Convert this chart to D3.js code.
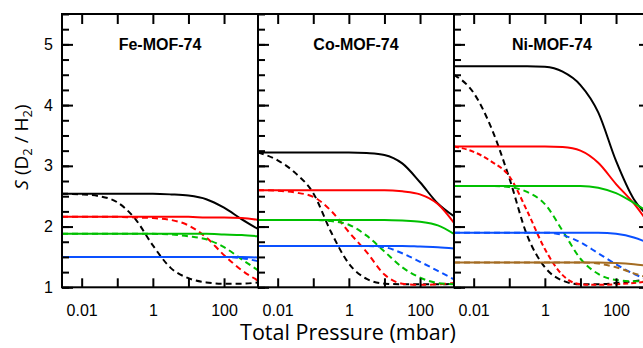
<!DOCTYPE html>
<html>
<head>
<meta charset="utf-8">
<script src="https://cdnjs.cloudflare.com/ajax/libs/d3/7.8.5/d3.min.js"></script>
<style>
    html, body { margin: 0; padding: 0; background: #fff; }
    .chart-sel__frame { fill: none; stroke: #000; stroke-width: 2; }
    .chart-sel__axis path.domain { display: none; }
    .chart-sel__axis line { stroke: #000; stroke-width: 2; }
    .chart-sel__axis text { font-family: "Liberation Sans", Arial, sans-serif; font-size: 16px; fill: #000; }
    .chart-sel__title { font-family: "Liberation Sans", Arial, sans-serif; font-weight: bold; font-size: 16px; }
    .chart-sel__label { font-family: "Open Sans", sans-serif; fill: #000; }
    .chart-sel__curve { fill: none; stroke-width: 2; }
</style>
</head>
<body>
<div id="chart"></div>
<script>
const pressures = [0.0028, 0.01, 0.0316, 0.1, 0.316, 1, 3.16, 10, 31.6, 100, 316, 900];

const panelNames = ['Fe-MOF-74', 'Co-MOF-74', 'Ni-MOF-74'];

const xTickValues = [0.01, 0.1, 1, 10, 100];
const xTickLabels = [0.01, 1, 100];
const yMajorTicks = [1, 2, 3, 4, 5];
const yMinorTicks = [1, 1.25, 1.5, 1.75, 2, 2.25, 2.5, 2.75, 3, 3.25, 3.5, 3.75, 4, 4.25, 4.5, 4.75, 5, 5.25, 5.5];

// series order: black, red, green, blue, brown
const feSolid = [
    [2.54, 2.54, 2.54, 2.54, 2.54, 2.54, 2.53, 2.51, 2.45, 2.31, 2.12, 1.96],
    [2.16, 2.16, 2.16, 2.16, 2.16, 2.16, 2.16, 2.16, 2.15, 2.15, 2.14, 2.11],
    [1.88, 1.88, 1.88, 1.88, 1.88, 1.88, 1.88, 1.88, 1.88, 1.87, 1.86, 1.84],
    [1.50, 1.50, 1.50, 1.50, 1.50, 1.50, 1.50, 1.50, 1.50, 1.50, 1.50, 1.49],
];
const feDashed = [
    [2.54, 2.53, 2.50, 2.40, 2.13, 1.69, 1.32, 1.15, 1.08, 1.06, 1.06, 1.08],
    [2.16, 2.16, 2.16, 2.16, 2.15, 2.14, 2.11, 2.02, 1.82, 1.53, 1.28, 1.11],
    [1.88, 1.88, 1.88, 1.88, 1.88, 1.88, 1.87, 1.84, 1.79, 1.66, 1.46, 1.28],
    [1.50, 1.50, 1.50, 1.50, 1.50, 1.50, 1.50, 1.50, 1.50, 1.50, 1.48, 1.43],
];
const coSolid = [
    [3.22, 3.22, 3.22, 3.22, 3.22, 3.22, 3.21, 3.18, 3.04, 2.73, 2.38, 2.17],
    [2.60, 2.60, 2.60, 2.60, 2.60, 2.60, 2.60, 2.60, 2.58, 2.53, 2.37, 2.06],
    [2.11, 2.11, 2.11, 2.11, 2.11, 2.11, 2.11, 2.11, 2.10, 2.08, 2.02, 1.88],
    [1.68, 1.68, 1.68, 1.68, 1.68, 1.68, 1.68, 1.68, 1.68, 1.67, 1.66, 1.64],
];
const coDashed = [
    [3.22, 3.09, 2.88, 2.55, 1.91, 1.39, 1.14, 1.06, 1.05, 1.05, 1.05, 1.06],
    [2.60, 2.59, 2.56, 2.49, 2.26, 1.91, 1.58, 1.21, 1.06, 1.04, 1.05, 1.07],
    [2.11, 2.11, 2.11, 2.11, 2.09, 2.03, 1.85, 1.59, 1.33, 1.16, 1.07, 1.05],
    [1.68, 1.68, 1.68, 1.68, 1.68, 1.68, 1.68, 1.66, 1.56, 1.42, 1.27, 1.13],
];
const niSolid = [
    [4.64, 4.64, 4.64, 4.64, 4.64, 4.63, 4.55, 4.33, 3.88, 3.08, 2.45, 2.15],
    [3.32, 3.32, 3.32, 3.32, 3.32, 3.32, 3.31, 3.25, 3.05, 2.70, 2.38, 2.02],
    [2.67, 2.67, 2.67, 2.67, 2.67, 2.67, 2.67, 2.67, 2.64, 2.55, 2.39, 2.22],
    [1.90, 1.90, 1.90, 1.90, 1.90, 1.90, 1.90, 1.90, 1.90, 1.88, 1.82, 1.72],
    [1.41, 1.41, 1.41, 1.41, 1.41, 1.41, 1.41, 1.41, 1.41, 1.40, 1.38, 1.35],
];
const niDashed = [
    [4.50, 4.20, 3.62, 2.80, 1.86, 1.33, 1.11, 1.05, 1.05, 1.07, 1.10, 1.13],
    [3.32, 3.23, 3.07, 2.83, 2.26, 1.63, 1.20, 1.05, 1.04, 1.05, 1.07, 1.10],
    [2.67, 2.67, 2.67, 2.65, 2.57, 2.37, 1.93, 1.47, 1.22, 1.12, 1.10, 1.10],
    [1.90, 1.90, 1.90, 1.90, 1.90, 1.90, 1.86, 1.74, 1.56, 1.38, 1.22, 1.12],
    [1.41, 1.41, 1.41, 1.41, 1.41, 1.41, 1.41, 1.41, 1.39, 1.33, 1.23, 1.15],
];

const panelSolid = [feSolid, coSolid, niSolid];
const panelDashed = [feDashed, coDashed, niDashed];

class SelectivityChart {

    constructor(div){
        this.settings = {
            mainClass: 'chart-sel',
            container: div,
            dimension: {
                width: 643,
                height: 348,
                panelWidth: 196,
                boundHeight: 273.3,
                margins: { left: 62, top: 14 },
            },
            colors: ['#000000', '#ff0000', '#00c000', '#0a50ff', '#a46c22'],
            dash: '6 4',
            thinDash: { panel: 2, series: 1, width: 1.4, dash: '5 3' },
        };
        this.elements = {};
    }

    renderChart(){
        this.createBound();
        this.calcScales();
        panelNames.forEach((name, i) => this.drawPanel(name, i));
        this.drawLabels();
    }

    createBound(){
        const { mainClass, container, dimension: { width, height, margins } } = this.settings;

        const svg = d3.select(container).append('svg')
            .classed(mainClass, true)
            .attr('width', width).attr('height', height)
            .style('display', 'block');

        const bound = svg.append('g')
            .classed(`${mainClass}__bound`, true)
            .attr('transform', `translate(${margins.left},${margins.top})`);

        this.elements.svg = svg;
        this.elements.bound = bound;
    }

    calcScales(){
        const { panelWidth, boundHeight } = this.settings.dimension;

        this.elements.xScale = d3.scaleLog()
            .domain([pressures[0], pressures[pressures.length - 1]])
            .range([0, panelWidth]);

        this.elements.yScale = d3.scaleLinear()
            .domain([1, 5.5])
            .range([boundHeight, 0]);
    }

    drawPanel(name, i){
        const { bound, xScale, yScale, svg } = this.elements;
        const { mainClass, colors, dash, thinDash, dimension: { panelWidth, boundHeight } } = this.settings;

        const panel = bound.append('g')
            .classed(`${mainClass}__panel`, true)
            .attr('transform', `translate(${i * panelWidth},0)`);

        const clipId = `${mainClass}-clip-${i}`;
        svg.append('defs').append('clipPath').attr('id', clipId)
            .append('rect').attr('width', panelWidth).attr('height', boundHeight);

        const line = d3.line()
            .x((d, j) => xScale(pressures[j]))
            .y((d) => yScale(d))
            .curve(d3.curveMonotoneX);

        const isThin = (k) => i === thinDash.panel && k === thinDash.series;

        const curves = panel.append('g').attr('clip-path', `url(#${clipId})`);

        curves.selectAll(`.${mainClass}__dashed`).data(panelDashed[i])
            .join('path')
            .attr('class', `${mainClass}__curve ${mainClass}__dashed`)
            .attr('stroke', (d, k) => colors[k])
            .attr('stroke-dasharray', (d, k) => isThin(k) ? thinDash.dash : dash)
            .attr('stroke-width', (d, k) => isThin(k) ? thinDash.width : 2)
            .attr('d', line);

        curves.selectAll(`.${mainClass}__solid`).data(panelSolid[i])
            .join('path')
            .attr('class', `${mainClass}__curve ${mainClass}__solid`)
            .attr('stroke', (d, k) => colors[k])
            .attr('d', line);

        //AXIS ------------------------
        panel.append('g')
            .classed(`${mainClass}__axis`, true)
            .attr('transform', `translate(0,${boundHeight})`)
            .call(d3.axisBottom(xScale).tickValues(xTickValues)
                .tickSizeInner(-9).tickSizeOuter(0).tickPadding(17)
                .tickFormat((d) => xTickLabels.includes(d) ? d : ''));

        panel.append('g')
            .classed(`${mainClass}__axis`, true)
            .call(d3.axisTop(xScale).tickValues(xTickValues)
                .tickSizeInner(-10).tickSizeOuter(0).tickFormat(''));

        panel.append('g')
            .classed(`${mainClass}__axis`, true)
            .call(d3.axisLeft(yScale).tickValues(yMinorTicks)
                .tickSizeInner(-7).tickSizeOuter(0).tickFormat(''));

        panel.append('g')
            .classed(`${mainClass}__axis`, true)
            .call(d3.axisLeft(yScale).tickValues(yMajorTicks)
                .tickSizeInner(-11).tickSizeOuter(0).tickPadding(9)
                .tickFormat((d) => i === 0 ? d : ''));

        // only the last panel shows its own right-hand ticks
        if (i === panelNames.length - 1){
            panel.append('g')
                .classed(`${mainClass}__axis`, true)
                .attr('transform', `translate(${panelWidth},0)`)
                .call(d3.axisRight(yScale).tickValues(yMinorTicks)
                    .tickSizeInner(-7).tickSizeOuter(0).tickFormat(''));
            panel.append('g')
                .classed(`${mainClass}__axis`, true)
                .attr('transform', `translate(${panelWidth},0)`)
                .call(d3.axisRight(yScale).tickValues(yMajorTicks)
                    .tickSizeInner(-11).tickSizeOuter(0).tickFormat(''));
        }

        panel.append('rect')
            .classed(`${mainClass}__frame`, true)
            .attr('width', panelWidth).attr('height', boundHeight);

        panel.append('text')
            .classed(`${mainClass}__title`, true)
            .attr('x', panelWidth / 2).attr('y', 36)
            .attr('text-anchor', 'middle')
            .text(name);
    }

    drawLabels(){
        const { svg } = this.elements;
        const { mainClass } = this.settings;

        svg.append('text')
            .classed(`${mainClass}__label`, true)
            .attr('x', 348).attr('y', 340)
            .attr('text-anchor', 'middle')
            .style('font-size', '21.5px')
            .text('Total Pressure (mbar)');

        const yLabel = svg.append('text')
            .classed(`${mainClass}__label`, true)
            .attr('transform', 'translate(28,147) rotate(-90)')
            .attr('text-anchor', 'middle')
            .style('font-size', '19px');

        yLabel.append('tspan').style('font-style', 'italic').text('S');
        yLabel.append('tspan').text(' (D');
        yLabel.append('tspan').attr('dy', 4).style('font-size', '13px').text('2');
        yLabel.append('tspan').attr('dy', -4).text(' / H');
        yLabel.append('tspan').attr('dy', 4).style('font-size', '13px').text('2');
        yLabel.append('tspan').attr('dy', -4).text(')');
    }
}

const chart = new SelectivityChart(document.getElementById('chart'));
chart.renderChart();
</script>
</body>
</html>
